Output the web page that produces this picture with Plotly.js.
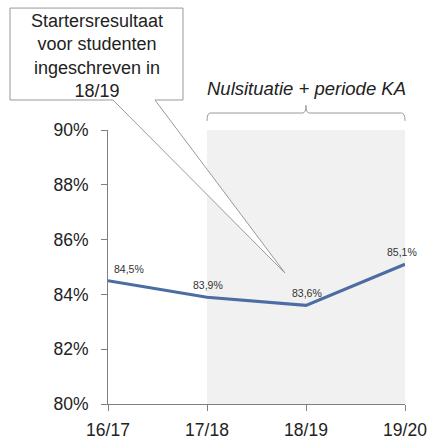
<!DOCTYPE html>
<html>
<head>
<meta charset="utf-8">
<script src="https://cdn.plot.ly/plotly-3.0.1.min.js"></script>
<style>html,body{margin:0;padding:0;background:#fff;}#chart{width:430px;height:439px;}</style>
</head>
<body>
<div id="chart"></div>
<script>
const categories = ['16/17', '17/18', '18/19', '19/20'];
const values = [84.5, 83.9, 83.6, 85.1];
const valueLabels = ['84,5%', '83,9%', '83,6%', '85,1%'];
const yTickVals = [80, 82, 84, 86, 88, 90];
const yTickText = ['80%', '82%', '84%', '86%', '88%', '90%'];
const calloutText = 'Startersresultaat<br>voor studenten<br>ingeschreven in<br>18/19';
const periodText = 'Nulsituatie + periode KA';

const trace = {
  type: 'scatter',
  mode: 'lines',
  x: categories,
  y: values,
  line: {color: '#4c6ca4', width: 3},
  cliponaxis: false,
  hoverinfo: 'skip'
};

const labelXShift = [21, 1, 1, -3];
const labelAnnotations = categories.map((c, i) => ({
  xref: 'x', yref: 'y', x: c, y: values[i], text: valueLabels[i],
  showarrow: false, xanchor: 'center', yanchor: 'middle',
  xshift: labelXShift[i], yshift: 12,
  font: {family: 'Liberation Sans, Arial, sans-serif', size: 10.5, color: '#333'}
}));

// callout geometry (paper coords)
const bx0 = -0.33, bx1 = 0.2525, by0 = 1.1095, by1 = 1.445;
const pA = 0.0168, pB = 0.158, tipX = 0.596, tipY = 0.478;
const calloutPath = `M ${bx0},${by1} L ${bx1},${by1} L ${bx1},${by0} L ${pB},${by0} L ${tipX},${tipY} L ${pA},${by0} L ${bx0},${by0} Z`;

const bracketPath = 'M 0.3333,1.033 Q 0.3333,1.062 0.345,1.062 L 0.655,1.062 Q 0.6667,1.062 0.6667,1.09 Q 0.6667,1.062 0.678,1.062 L 0.988,1.062 Q 1,1.062 1,1.033';

const layout = {
  width: 430, height: 439,
  margin: {l: 108, r: 25, t: 130, b: 35},
  paper_bgcolor: '#fff', plot_bgcolor: 'rgba(0,0,0,0)',
  showlegend: false,
  font: {family: 'Liberation Sans, Arial, sans-serif', color: '#222'},
  xaxis: {
    type: 'category', range: [0, 3],
    showgrid: false, zeroline: false,
    showline: true, linecolor: '#7f7f7f', linewidth: 1,
    ticks: 'outside', ticklen: 6, tickcolor: '#7f7f7f',
    ticklabelstandoff: 4,
    tickfont: {size: 17.5, color: '#222'}
  },
  yaxis: {
    range: [80, 90],
    tickvals: yTickVals, ticktext: yTickText,
    showgrid: false, zeroline: false,
    showline: true, linecolor: '#7f7f7f', linewidth: 1,
    ticks: 'outside', ticklen: 6, tickcolor: '#7f7f7f',
    ticklabelstandoff: 9,
    tickfont: {size: 17.5, color: '#222'}
  },
  shapes: [
    {type: 'rect', xref: 'paper', yref: 'paper', x0: 1/3, x1: 1, y0: 0, y1: 1,
     fillcolor: '#f1f1f1', line: {width: 0}, layer: 'below'},
    {type: 'path', xref: 'paper', yref: 'paper', path: bracketPath,
     line: {color: '#9a9a9a', width: 1}},
    {type: 'path', xref: 'paper', yref: 'paper', path: calloutPath,
     fillcolor: '#ffffff', line: {color: '#999999', width: 1}, layer: 'above'}
  ],
  annotations: [
    {xref: 'paper', yref: 'paper', x: -0.037, y: 1.27, text: calloutText, showarrow: false,
     font: {size: 18, color: '#222'}, align: 'center', xanchor: 'center', yanchor: 'middle'},
    {xref: 'paper', yref: 'paper', x: 0.667, y: 1.153, text: '<i>' + periodText + '</i>', showarrow: false,
     font: {size: 18.5, color: '#222'}, xanchor: 'center', yanchor: 'middle'}
  ].concat(labelAnnotations)
};

Plotly.newPlot('chart', [trace], layout, {displayModeBar: false, staticPlot: true});
</script>
</body>
</html>
